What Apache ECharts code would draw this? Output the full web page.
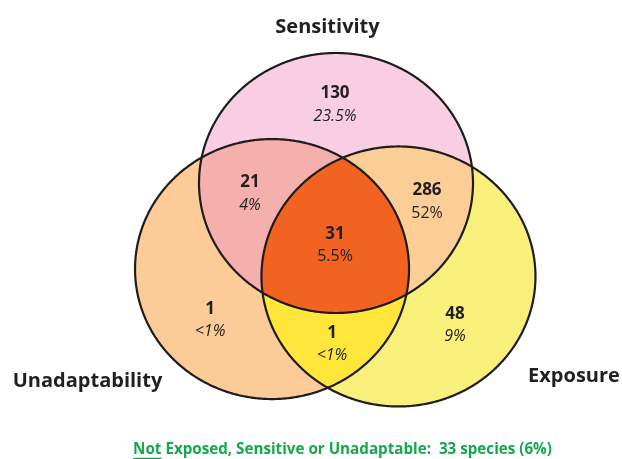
<!DOCTYPE html>
<html><head><meta charset="utf-8">
<script src="https://cdn.jsdelivr.net/npm/echarts@6/dist/echarts.min.js"></script>
<style>html,body{margin:0;padding:0;background:#fff}#c{width:622px;height:459px}</style>
</head><body><div id="c"></div>
<script>
// ---------- data ----------
const setNames = ['Sensitivity', 'Unadaptability', 'Exposure'];
const regionNames = ['Sensitivity only', 'Sensitivity & Unadaptability', 'Sensitivity & Exposure',
  'All three', 'Unadaptability only', 'Unadaptability & Exposure', 'Exposure only'];
const regionSets = [[0], [0, 1], [0, 2], [0, 1, 2], [1], [1, 2], [2]];
const regionCounts = [130, 21, 286, 31, 1, 1, 48];
const regionPercents = ['23.5%', '4%', '52%', '5.5%', '<1%', '<1%', '9%'];
const noneLead = 'Not';
const noneCount = 33;
const nonePercent = '6%';

// ---------- layout / style ----------
const circleCenters = [[0, 0], [-0.467, -0.662], [0.456, -0.719]]; // unit radius circles
const xRange = [-2.4526, 2.0876], yRange = [-2.1231, 1.4077];
const labelAnchors = [[-0.0073, 0.6038], [-0.6277, -0.0808], [0.6642, -0.1423], [-0.0073, -0.4769],
  [-0.9197, -1.0538], [-0.0292, -1.2385], [0.8686, -1.0923]];
const regionColors = ['#F9CEE2', '#F5AFAD', '#FBCE98', '#F26322', '#FBCB98', '#FFE63B', '#F9EF7B'];
const percentItalic = [true, true, false, false, true, true, true];
const FONT = '"Open Sans", Lato, sans-serif';
const TXT = '#231F20';

function d2(p, c) { return Math.hypot(p[0] - c[0], p[1] - c[1]); }
function intersectionPolygon(sets) {
  const pts = [];
  const N = 720;
  const inside = (p, skip) => sets.every(j => skip.includes(j) || d2(p, circleCenters[j]) <= 1 + 1e-7);
  sets.forEach(i => {
    const [cx, cy] = circleCenters[i];
    for (let k = 0; k < N; k++) {
      const a = 2 * Math.PI * k / N;
      const p = [cx + Math.cos(a), cy + Math.sin(a)];
      if (inside(p, [i])) pts.push(p);
    }
  });
  for (let a = 0; a < sets.length; a++) for (let b = a + 1; b < sets.length; b++) {
    const c1 = circleCenters[sets[a]], c2 = circleCenters[sets[b]];
    const dx = c2[0] - c1[0], dy = c2[1] - c1[1], d = Math.hypot(dx, dy);
    const h = Math.sqrt(Math.max(0, 1 - (d / 2) * (d / 2)));
    const mx = c1[0] + dx / 2, my = c1[1] + dy / 2;
    const px = -dy / d, py = dx / d;
    [[mx + h * px, my + h * py], [mx - h * px, my - h * py]].forEach(p => {
      if (inside(p, [sets[a], sets[b]])) pts.push(p);
    });
  }
  const cx = pts.reduce((s, p) => s + p[0], 0) / pts.length;
  const cy = pts.reduce((s, p) => s + p[1], 0) / pts.length;
  pts.sort((p, q) => Math.atan2(p[1] - cy, p[0] - cx) - Math.atan2(q[1] - cy, q[0] - cx));
  return pts;
}

const paintOrder = regionSets.map((s, i) => i).sort((a, b) => regionSets[a].length - regionSets[b].length);

// bottom note: fit to the reference width and measure underline
const noteRest = ' Exposed, Sensitive or Unadaptable:  ' + noneCount + ' species (' + nonePercent + ')';
const cv = document.createElement('canvas').getContext('2d');
cv.font = 'bold 15px "Open Sans"';
const noteSize = Math.min(16, 15 * 419 / cv.measureText(noneLead + noteRest).width);
const noteFont = 'bold ' + noteSize.toFixed(2) + 'px "Open Sans"';
cv.font = noteFont;
const wLead = cv.measureText(noneLead).width;
const wAll = cv.measureText(noneLead + noteRest).width;
const noteCx = 342.5, noteY = 450;
const noteX0 = noteCx - wAll / 2;

const chart = echarts.init(document.getElementById('c'), null, { renderer: 'canvas' });
chart.setOption({
  animation: false,
  grid: { left: 0, right: 0, top: 0, bottom: 0 },
  xAxis: { type: 'value', min: xRange[0], max: xRange[1], show: false },
  yAxis: { type: 'value', min: yRange[0], max: yRange[1], show: false },
  series: [
    {
      type: 'custom', name: 'regions', z: 1,
      data: paintOrder.map(i => [i]),
      renderItem: (params, api) => {
        const r = api.value(0);
        const pts = intersectionPolygon(regionSets[r]).map(p => api.coord(p));
        return { type: 'polygon', shape: { points: pts }, style: { fill: regionColors[r], stroke: null } };
      }
    },
    {
      type: 'custom', name: 'outlines', z: 2,
      data: setNames.map((n, i) => [i]),
      renderItem: (params, api) => {
        const i = api.value(0);
        const pts = intersectionPolygon([i]).map(p => api.coord(p));
        return { type: 'polygon', shape: { points: pts }, style: { fill: null, stroke: '#1E1C1D', lineWidth: 2.2 } };
      }
    },
    {
      type: 'custom', name: 'labels', z: 3,
      data: regionCounts.map((c, i) => [i]),
      renderItem: (params, api) => {
        const i = api.value(0);
        const p = api.coord(labelAnchors[i]);
        return {
          type: 'group', children: [
            { type: 'text', x: p[0], y: p[1] - 11, style: { text: String(regionCounts[i]), font: 'bold 17px ' + FONT, fill: TXT, align: 'center', verticalAlign: 'middle' } },
            { type: 'text', x: p[0], y: p[1] + 11.5, style: { text: regionPercents[i], font: (percentItalic[i] ? 'italic ' : '') + '16px ' + FONT, fill: TXT, align: 'center', verticalAlign: 'middle' } }
          ]
        };
      }
    }
  ],
  graphic: [
    { type: 'text', x: 327.5, y: 27, style: { text: setNames[0], font: 'bold 20px ' + FONT, fill: TXT, align: 'center', verticalAlign: 'middle' } },
    { type: 'text', x: 87.5, y: 381, style: { text: setNames[1], font: 'bold 20px ' + FONT, fill: TXT, align: 'center', verticalAlign: 'middle' } },
    { type: 'text', x: 574, y: 376, style: { text: setNames[2], font: 'bold 20px ' + FONT, fill: TXT, align: 'center', verticalAlign: 'middle' } },
    { type: 'text', x: noteX0, y: noteY, style: { text: noneLead + noteRest, font: noteFont, fill: '#14A84E', align: 'left', verticalAlign: 'middle' } },
    { type: 'line', shape: { x1: noteX0, y1: noteY + 8.5, x2: noteX0 + wLead, y2: noteY + 8.5 }, style: { stroke: '#14A84E', lineWidth: 1.5 } }
  ]
});
</script></body></html>
